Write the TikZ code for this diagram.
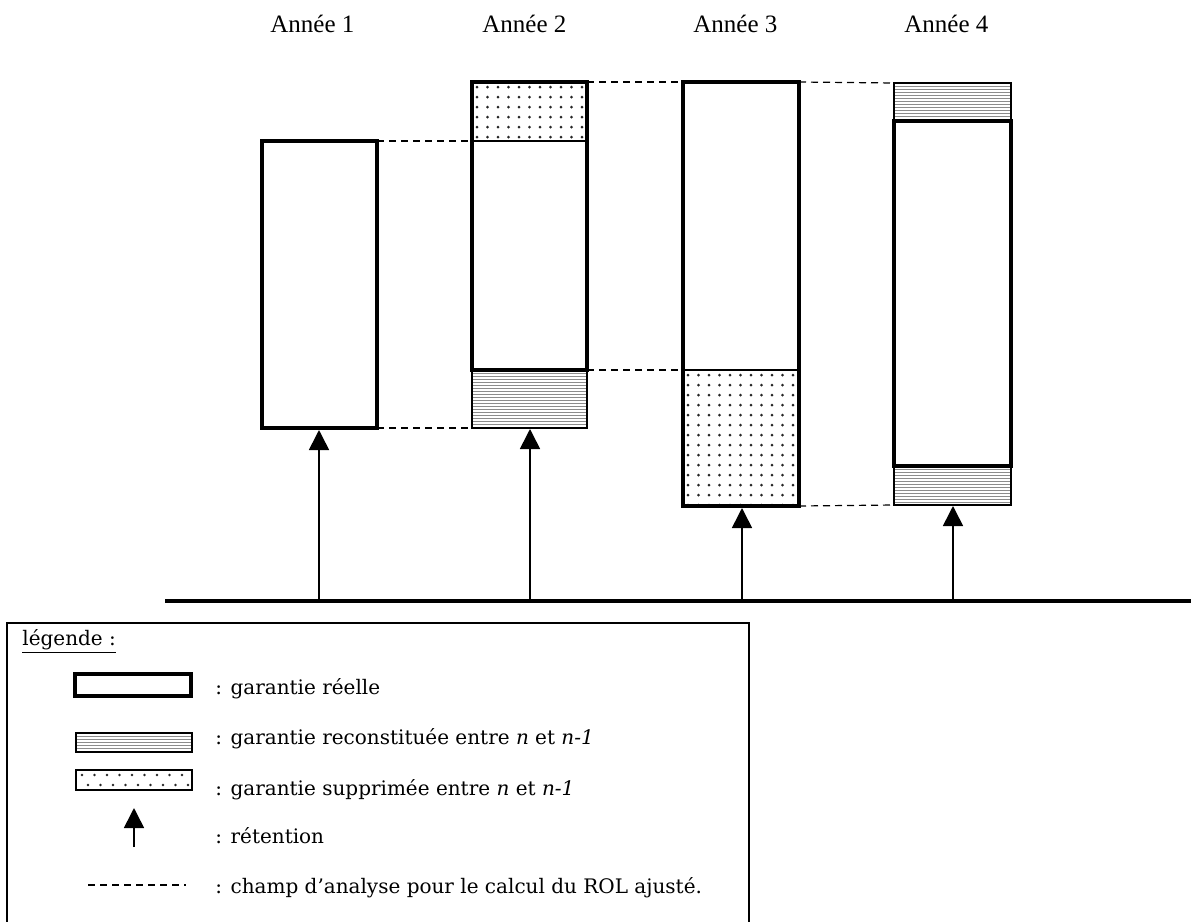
\documentclass[tikz,border=0pt]{standalone}
\usepackage{fontspec}
\setmainfont{Liberation Serif}
\newfontfamily\legfont{DejaVu Serif}
\usetikzlibrary{arrows.meta}
\newcommand\hatcharea[4]{%
  \begin{scope}
    \clip (#1,#2) rectangle (#3,#4);
    \foreach \yy in {0,3,...,180} \draw[hatchline] (#1,#2+\yy) -- (#3,#2+\yy);
  \end{scope}}
\newcommand\dotarea[4]{%
  \begin{scope}
    \clip (#1,#2) rectangle (#3,#4);
    \foreach \ii in {0,...,12} \foreach \jj in {0,...,18}
      \fill[dotcol] (#1+5+\ii*10.5,#2+5+\jj*10) circle[radius=0.75pt];
  \end{scope}}
\newcommand\dotarealeg[4]{%
  \begin{scope}
    \clip (#1,#2) rectangle (#3,#4);
    \foreach \ii in {0,...,9} {
      \fill[dotcol] (#1+6+\ii*12.5,#2+5) circle[radius=0.7pt];
      \fill[dotcol] (#1+12+\ii*12.5,#2+15) circle[radius=0.7pt];}
  \end{scope}}
\begin{document}
\begin{tikzpicture}[x=0.5pt,y=-0.5pt,
  thickbox/.style={draw=black,line width=2pt},
  thinbox/.style={draw=black,line width=0.8pt},
  hatchline/.style={draw=black!45,line width=0.45pt},
  dotcol/.style={fill=black!85},
  analysis/.style={draw=black,line width=0.6pt,dash pattern=on 3.5pt off 2.5pt},
  retention/.style={draw=black,line width=0.8pt,-{Triangle[width=10pt,length=10pt]}},
  ground/.style={draw=black,line width=1.8pt},
  yearlabel/.style={anchor=base west,font=\fontsize{12.5}{15}\selectfont,inner sep=0pt},
  legtext/.style={anchor=base west,font=\legfont\fontsize{10}{12}\selectfont,inner sep=0pt},
]
\useasboundingbox (0,0) rectangle (1191,922);

% year labels
\node[yearlabel] (l1) at (270,32) {Année 1};
\node[yearlabel] (l2) at (482,32) {Année 2};
\node[yearlabel] (l3) at (693,32) {Année 3};
\node[yearlabel] (l4) at (904,32) {Année 4};

% Year 1
\draw[thickbox] (262,141) rectangle (377,428);
\coordinate (a1t) at (377,141);
\coordinate (a1b) at (377,428);
\coordinate (a1r) at (319,430);

% Year 2
\dotarea{472}{82}{587}{141}
\hatcharea{472}{370}{587}{428}
\draw[thinbox] (472,370) rectangle (587,428);
\draw[thinbox] (472,141) -- (587,141);
\draw[thickbox] (472,82) rectangle (587,370);
\coordinate (a2tl) at (472,141);
\coordinate (a2bl) at (472,428);
\coordinate (a2tr) at (587,82);
\coordinate (a2mr) at (587,370);
\coordinate (a2r) at (530,429);

% Year 3
\dotarea{683}{370}{799}{506}
\draw[thinbox] (683,370) -- (799,370);
\draw[thickbox] (683,82) rectangle (799,506);
\coordinate (a3tl) at (683,82);
\coordinate (a3ml) at (683,370);
\coordinate (a3tr) at (799,82);
\coordinate (a3br) at (799,506);
\coordinate (a3r) at (742,508);

% Year 4
\hatcharea{894}{83}{1011}{121}
\draw[thinbox] (894,83) rectangle (1011,121);
\hatcharea{894}{466}{1011}{505}
\draw[thinbox] (894,466) rectangle (1011,505);
\draw[thickbox] (894,121) rectangle (1011,466);
\coordinate (a4tl) at (894,83);
\coordinate (a4bl) at (894,505);
\coordinate (a4r) at (953,506);

% analysis field lines
\draw[analysis] (a1t) -- (a2tl);
\draw[analysis] (a1b) -- (a2bl);
\draw[analysis] (a2tr) -- (a3tl);
\draw[analysis] (a2mr) -- (a3ml);
\draw[analysis] (a3tr) -- (a4tl);
\draw[analysis] (a3br) -- (a4bl);

% ground line and retentions
\coordinate (g0) at (165,601);
\coordinate (g1) at (1191,601);
\coordinate (s1) at (319,601);
\coordinate (s2) at (530,601);
\coordinate (s3) at (742,601);
\coordinate (s4) at (953,601);
\draw[retention] (s1) -- (a1r);
\draw[retention] (s2) -- (a2r);
\draw[retention] (s3) -- (a3r);
\draw[retention] (s4) -- (a4r);
\draw[ground] (g0) -- (g1);

% legend
\draw[line width=1pt] (7,923) -- (7,623) -- (749,623) -- (749,923);
\node[legtext] (lt) at (22,645) {\underline{légende :}};
\draw[thickbox] (75,674) rectangle (191,696);
\node[legtext] (t1) at (215,694) {: garantie réelle};
\hatcharea{76}{733}{192}{752}
\draw[thinbox] (76,733) rectangle (192,752);
\node[legtext] (t2) at (215,744) {: garantie reconstituée entre \textit{n} et \textit{n-1}};
\dotarealeg{76}{770}{192}{790}
\draw[thinbox] (76,770) rectangle (192,790);
\node[legtext] (t3) at (215,795) {: garantie supprimée entre \textit{n} et \textit{n-1}};
\coordinate (lr0) at (134,847);
\coordinate (lr1) at (134,808);
\draw[retention] (lr0) -- (lr1);
\node[legtext] (t4) at (215,843) {: rétention};
\coordinate (ld0) at (88,885);
\coordinate (ld1) at (186,885);
\draw[analysis] (ld0) -- (ld1);
\node[legtext] (t5) at (215,893) {: champ d’analyse pour le calcul du ROL ajusté.};
\end{tikzpicture}
\end{document}
